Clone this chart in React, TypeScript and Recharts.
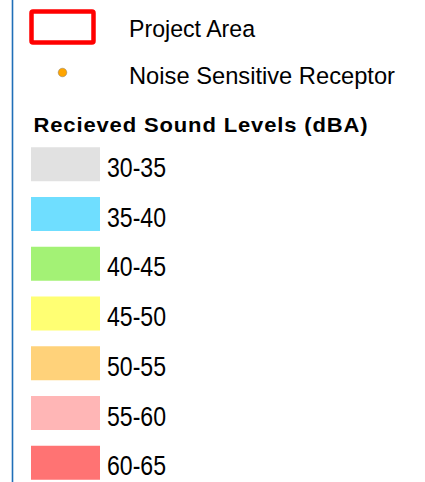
import React from 'react'
import { BarChart, Bar, XAxis, YAxis, Cell, LabelList, Customized } from 'recharts'

// legend classes for received sound level
const levels = ['30-35', '35-40', '40-45', '45-50', '50-55', '55-60', '60-65']
const levelColors = ['#E1E1E1', '#6FDEFF', '#A3F275', '#FFFF73', '#FFD27A', '#FFB6B6', '#FF7373']
const swatchValues = [1, 1, 1, 1, 1, 1, 1]

const title = 'Recieved Sound Levels (dBA)'
const projectLabel = 'Project Area'
const receptorLabel = 'Noise Sensitive Receptor'

const narrow = '"Liberation Sans Narrow", "Arial Narrow", "Liberation Sans", Arial, sans-serif'

const rows = levels.map((level, i) => ({ level, value: swatchValues[i] }))

const LevelLabel = (props: any) => {
  const { x, y, width, height, value } = props
  return (
    <text
      x={x + width + 7}
      y={y + height / 2 + 12.7}
      fontSize={28}
      fontFamily={narrow}
      fill="#000"
      textLength={59}
      lengthAdjust="spacingAndGlyphs"
    >
      {value}
    </text>
  )
}

const LegendHeader = () => (
  <g>
    <line x1={12.5} y1={0} x2={12.5} y2={482} stroke="#1F6FB8" strokeWidth={1.6} />
    <rect x={31.5} y={11.5} width={62} height={31} rx={1.5} fill="#FFFFFF" stroke="#FF0000" strokeWidth={4.5} />
    <text x={129} y={37} fontSize={24.5} fontFamily={narrow} textLength={126} lengthAdjust="spacingAndGlyphs">
      {projectLabel}
    </text>
    <circle cx={62.5} cy={72.5} r={4.3} fill="#FFA500" stroke="#8a7a60" strokeWidth={0.5} />
    <text x={129} y={84} fontSize={24.5} fontFamily={narrow} textLength={266} lengthAdjust="spacingAndGlyphs">
      {receptorLabel}
    </text>
    <text
      x={33.5}
      y={131.8}
      fontSize={20.5}
      fontWeight="bold"
      fontFamily='"Liberation Sans", Arial, sans-serif'
      letterSpacing={0.8}
      textLength={335}
      lengthAdjust="spacingAndGlyphs"
    >
      {title}
    </text>
  </g>
)

export default function App() {
  return (
    <div style={{ position: 'absolute', left: 0, top: 0, width: 425, height: 482, overflow: 'hidden', background: '#fff' }}>
      <BarChart
        layout="vertical"
        width={425}
        height={500}
        data={rows}
        margin={{ top: 139.125, right: 325, bottom: 12.625, left: 31 }}
      >
        <XAxis type="number" domain={[0, 1]} hide />
        <YAxis type="category" dataKey="level" hide />
        <Bar dataKey="value" barSize={34} isAnimationActive={false}>
          {rows.map((r, i) => (
            <Cell key={r.level} fill={levelColors[i]} />
          ))}
          <LabelList dataKey="level" content={LevelLabel} />
        </Bar>
        <Customized component={LegendHeader} />
      </BarChart>
    </div>
  )
}
